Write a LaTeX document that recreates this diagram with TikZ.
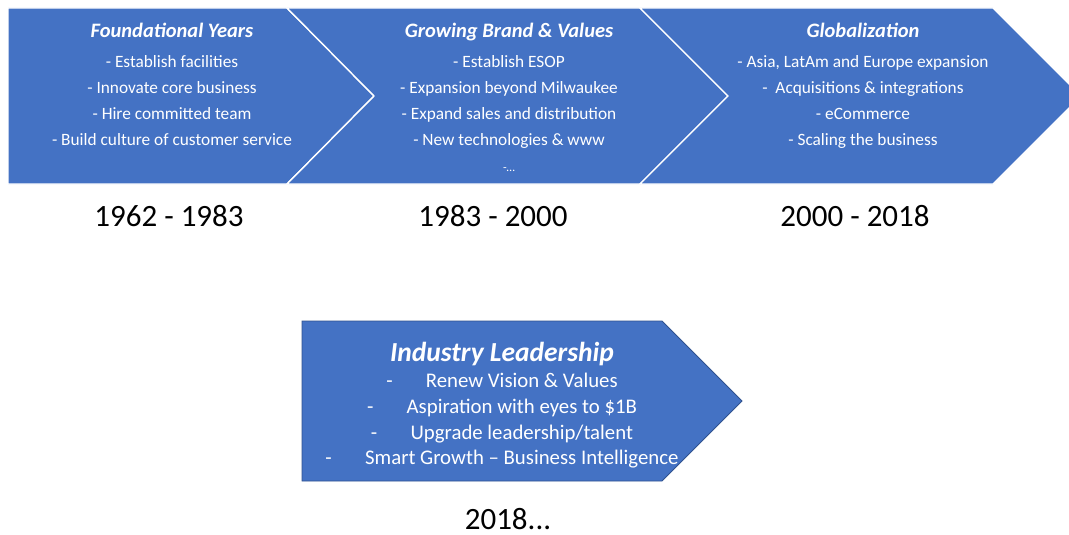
\documentclass[tikz,border=0pt]{standalone}
\usepackage{fontspec}
\setmainfont{Carlito}
\usetikzlibrary{positioning}

\definecolor{stageblue}{RGB}{68,114,196}
\definecolor{stageedge}{RGB}{47,82,143}

\begin{document}
\begin{tikzpicture}[
		x=1pt, y=-1pt,
		node distance=17pt,
		stage/.style={fill=stageblue, draw=white, line width=1.4pt},
		leadstage/.style={fill=stageblue, draw=stageedge, line width=0.8pt},
		title/.style={text=white, inner sep=0pt, anchor=base, font=\fontsize{20.5}{24}\selectfont\bfseries\itshape},
		items/.style={text=white, inner sep=0pt, align=center, font=\fontsize{17.3}{26}\selectfont},
		years/.style={inner sep=0pt, anchor=base, font=\fontsize{31}{36}\selectfont},
	]
		\useasboundingbox (0,0) rectangle (1069,535);

		% the three chevrons of the timeline
		\draw[stage] (8,8) -- (287,8) -- (374,96) -- (287,184) -- (8,184) -- cycle;
		\draw[stage] (287,8) -- (640,8) -- (728,96) -- (640,184) -- (287,184) -- (374,96) -- cycle;
		\draw[stage] (640,8) -- (993,8) -- (1081,96) -- (993,184) -- (640,184) -- (728,96) -- cycle;

		\node[title] (found) at (172,38) {Foundational Years};
		\node[items, below=of found.base] (foundlist) {- Establish facilities\\- Innovate core business\\- Hire committed team\\- Build culture of customer service};

		\node[title] (brand) at (509,38) {Growing Brand \& Values};
		\node[items, below=of brand.base] (brandlist) {- Establish ESOP\\- Expansion beyond Milwaukee\\- Expand sales and distribution\\- New technologies \& www\\{\fontsize{12}{14}\selectfont -\dots}};

		\node[title] (glob) at (863,38) {Globalization};
		\node[items, below=of glob.base] (globlist) {- Asia, LatAm and Europe expansion\\-\ \ Acquisitions \& integrations\\- eCommerce\\- Scaling the business};

		\node[years] (found-yr) at (169,226) {1962 - 1983};
		\node[years] (brand-yr) at (493,226) {1983 - 2000};
		\node[years] (glob-yr) at (855,226) {2000 - 2018};

		% next step, on its own
		\draw[leadstage] (302,321) -- (662,321) -- (742,401) -- (662,481) -- (302,481) -- cycle;
		\node[title, font=\fontsize{27.5}{32}\selectfont\bfseries\itshape] (lead) at (502,361) {Industry Leadership};
		\node[items, font=\fontsize{20.8}{25.7}\selectfont, below=12pt of lead.base] (leadlist) {-\hspace{1.6em}Renew Vision \& Values\\-\hspace{1.6em}Aspiration with eyes to \$1B\\-\hspace{1.6em}Upgrade leadership/talent\\-\hspace{1.6em}Smart Growth -- Business Intelligence};
		\node[years] (lead-yr) at (508,529) {2018...};
	\end{tikzpicture}
\end{document}
